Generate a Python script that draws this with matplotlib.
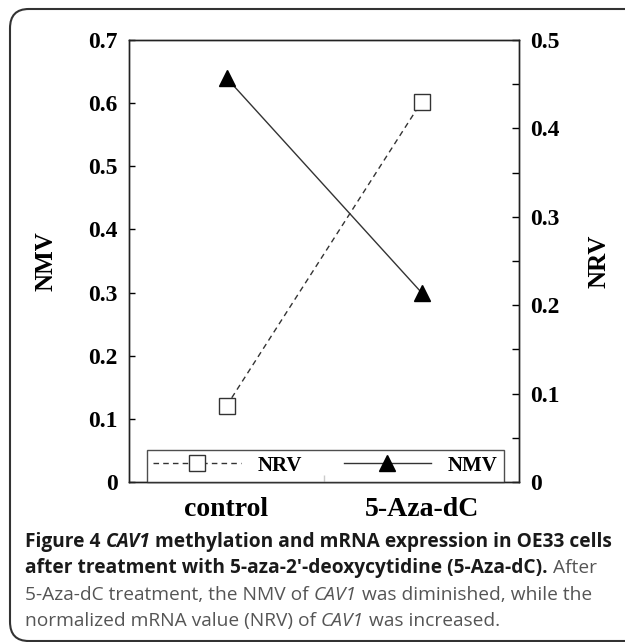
import matplotlib
matplotlib.use("Agg")
import matplotlib.pyplot as plt
from matplotlib.patches import FancyBboxPatch

# data
categories = ["control", "5-Aza-dC"]
nmv = [0.64, 0.30]      # left axis
nrv = [0.086, 0.43]     # right axis

nmv_ticks = [0, 0.1, 0.2, 0.3, 0.4, 0.5, 0.6, 0.7]
nmv_ticklabels = ["0", "0.1", "0.2", "0.3", "0.4", "0.5", "0.6", "0.7"]
nrv_ticks = [0, 0.1, 0.2, 0.3, 0.4, 0.5]
nrv_ticklabels = ["0", "0.1", "0.2", "0.3", "0.4", "0.5"]
nrv_minor = [0.05, 0.15, 0.25, 0.35, 0.45]

caption_lines = [
    [("Figure 4 ", "bold", "normal"), ("CAV1", "bold", "italic"),
     (" methylation and mRNA expression in OE33 cells", "bold", "normal")],
    [("after treatment with 5-aza-2\u2032-deoxycytidine (5-Aza-dC).", "bold", "normal"),
     (" After", "normal", "normal")],
    [("5-Aza-dC treatment, the NMV of ", "normal", "normal"), ("CAV1", "normal", "italic"),
     (" was diminished, while the", "normal", "normal")],
    [("normalized mRNA value (NRV) of ", "normal", "normal"), ("CAV1", "normal", "italic"),
     (" was increased.", "normal", "normal")],
]

W, H = 625, 642
fig = plt.figure(figsize=(W / 100, H / 100), dpi=100)

serif = "Liberation Serif"
x = [0, 1]

ax = fig.add_axes([129 / W, 1 - 482 / H, (519 - 129) / W, (482 - 40) / H])
ax2 = ax.twinx()

l1, = ax.plot(x, nmv, color="#333333", lw=1.0, marker="^", ms=12,
              mfc="black", mec="black", label="NMV", zorder=3)
l2, = ax2.plot(x, nrv, color="#333333", lw=1.0, ls=(0, (4, 3)), marker="s", ms=11,
               mfc="white", mec="#333333", mew=1.0, label="NRV", zorder=3)

ax.set_xlim(-0.5, 1.5)
ax.set_ylim(0, 0.7)
ax2.set_ylim(0, 0.5)

ax.set_xticks(x)
ax.set_xticklabels(categories, fontfamily=serif, fontweight="bold", fontsize=20)
ax.set_xticks([0.5], minor=True)
ax.tick_params(axis="x", which="major", length=0, pad=11)
ax.tick_params(axis="x", which="minor", direction="in", length=5, width=1)

ax.set_yticks(nmv_ticks)
ax.set_yticklabels(nmv_ticklabels, fontfamily=serif, fontweight="bold", fontsize=17)
ax.tick_params(axis="y", direction="in", length=4, width=1, pad=8)

ax2.set_yticks(nrv_ticks)
ax2.set_yticklabels(nrv_ticklabels, fontfamily=serif, fontweight="bold", fontsize=17)
ax2.set_yticks(nrv_minor, minor=True)
ax2.tick_params(axis="y", which="both", direction="in", length=5, width=1, pad=8)

ax.set_ylabel("NMV", fontfamily=serif, fontweight="bold", fontsize=18, labelpad=22)
ax2.set_ylabel("NRV", fontfamily=serif, fontweight="bold", fontsize=18, labelpad=20)

for a in (ax, ax2):
    for s in a.spines.values():
        s.set_linewidth(1.0)
        s.set_color("#222222")

leg = ax2.legend([l2, l1], ["NRV", "NMV"], ncol=2, loc="lower center",
                 bbox_to_anchor=(0.504, 0.0), borderaxespad=0, frameon=True,
                 fancybox=False, edgecolor="#222222", handlelength=4.2,
                 columnspacing=2.0, handletextpad=0.8, borderpad=0.3,
                 prop={"family": serif, "weight": "bold", "size": 15})
leg.get_frame().set_linewidth(1.0)

# rounded frame around the whole figure
frame = FancyBboxPatch((10 / W, 1 - 641 / H), 700 / W, (641 - 9) / H,
                       boxstyle="round,pad=0,rounding_size=0.03",
                       transform=fig.transFigure, fill=False,
                       edgecolor="#333333", lw=1.5)
fig.patches.append(frame)

# caption, drawn run by run
fig.canvas.draw()
renderer = fig.canvas.get_renderer()
cap_x0 = 25
cap_y = [547, 573, 600, 626]
for line, yy in zip(caption_lines, cap_y):
    xx = cap_x0
    for txt, weight, style in line:
        col = "#1a1a1a" if weight == "bold" else "#555555"
        t = fig.text(xx / W, 1 - yy / H, txt, fontfamily="Open Sans", fontweight=weight,
                     fontstyle=style, fontsize=13.75, color=col, va="baseline", ha="left")
        bb = t.get_window_extent(renderer=renderer)
        xx += bb.width

fig.savefig("out.png", dpi=100)
